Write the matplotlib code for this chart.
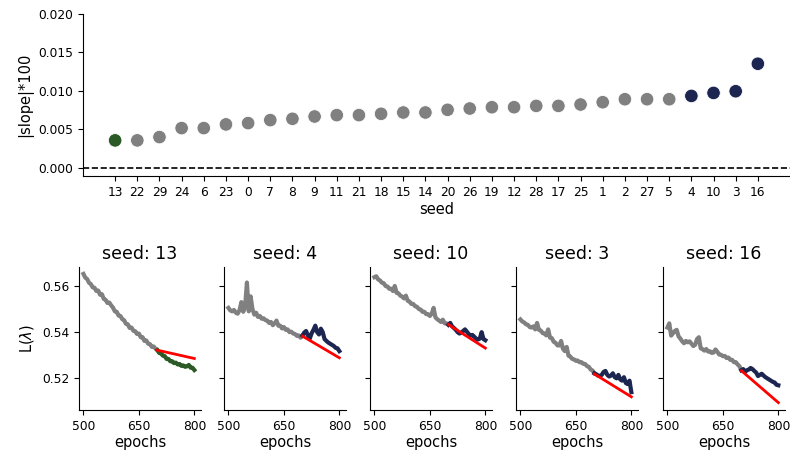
import numpy as np
import matplotlib
matplotlib.use('Agg')
import matplotlib.pyplot as plt
from matplotlib.ticker import FormatStrFormatter

# top panel: |slope|*100 per seed, sorted
seeds = ['13', '22', '29', '24', '6', '23', '0', '7', '8', '9', '11', '21', '18', '15',
         '14', '20', '26', '19', '12', '28', '17', '25', '1', '2', '27', '5', '4', '10',
         '3', '16']
slopes = [0.00354, 0.00354, 0.00397, 0.00514, 0.00514, 0.00562, 0.00579, 0.00618,
          0.00635, 0.00665, 0.00683, 0.00683, 0.00700, 0.00717, 0.00717, 0.00752,
          0.00769, 0.00786, 0.00786, 0.00803, 0.00803, 0.00821, 0.00851, 0.00890,
          0.00890, 0.00890, 0.00933, 0.00972, 0.00994, 0.01352]
highlight_low = ['13']
highlight_high = ['4', '10', '3', '16']

# bottom panels: loss curves (every 5 epochs)
epochs = list(range(500, 801, 5))
split_epoch = 700
loss = {
    '13': [0.5652, 0.5636, 0.5630, 0.5614, 0.5608, 0.5594, 0.5592, 0.5578, 0.5580, 0.5562,
           0.5564, 0.5544, 0.5540, 0.5526, 0.5528, 0.5516, 0.5506, 0.5490, 0.5488, 0.5472,
           0.5470, 0.5456, 0.5452, 0.5436, 0.5434, 0.5418, 0.5420, 0.5406, 0.5404, 0.5392,
           0.5394, 0.5378, 0.5378, 0.5362, 0.5364, 0.5350, 0.5348, 0.5336, 0.5338, 0.5328,
           0.5322, 0.5310, 0.5308, 0.5298, 0.5296, 0.5284, 0.5284, 0.5274, 0.5274, 0.5266,
           0.5268, 0.5260, 0.5262, 0.5254, 0.5256, 0.5250, 0.5252, 0.5258, 0.5246, 0.5246,
           0.5236],
    '4': [0.5505, 0.5494, 0.5490, 0.5496, 0.5484, 0.5480, 0.5495, 0.5530, 0.5488, 0.5510,
          0.5615, 0.5490, 0.5555, 0.5500, 0.5476, 0.5484, 0.5466, 0.5470, 0.5458, 0.5460,
          0.5452, 0.5450, 0.5440, 0.5444, 0.5430, 0.5438, 0.5450, 0.5428, 0.5428, 0.5416,
          0.5422, 0.5410, 0.5412, 0.5400, 0.5402, 0.5394, 0.5392, 0.5384, 0.5386, 0.5376,
          0.5385, 0.5398, 0.5405, 0.5385, 0.5372, 0.5395, 0.5410, 0.5428, 0.5400, 0.5390,
          0.5415, 0.5400, 0.5370, 0.5362, 0.5355, 0.5350, 0.5345, 0.5340, 0.5332, 0.5330,
          0.5318],
    '10': [0.5638, 0.5642, 0.5628, 0.5624, 0.5614, 0.5612, 0.5600, 0.5598, 0.5588, 0.5588,
           0.5578, 0.5600, 0.5570, 0.5568, 0.5558, 0.5554, 0.5546, 0.5558, 0.5536, 0.5532,
           0.5522, 0.5522, 0.5512, 0.5510, 0.5500, 0.5498, 0.5488, 0.5488, 0.5478, 0.5478,
           0.5470, 0.5480, 0.5505, 0.5464, 0.5456, 0.5450, 0.5444, 0.5454, 0.5438, 0.5438,
           0.5432, 0.5440, 0.5425, 0.5418, 0.5410, 0.5400, 0.5394, 0.5398, 0.5405, 0.5412,
           0.5402, 0.5392, 0.5385, 0.5388, 0.5380, 0.5372, 0.5368, 0.5372, 0.5400, 0.5370,
           0.5365],
    '3': [0.5455, 0.5446, 0.5442, 0.5434, 0.5432, 0.5422, 0.5420, 0.5425, 0.5412, 0.5440,
          0.5410, 0.5407, 0.5396, 0.5394, 0.5386, 0.5412, 0.5376, 0.5374, 0.5358, 0.5354,
          0.5343, 0.5342, 0.5362, 0.5328, 0.5318, 0.5336, 0.5298, 0.5294, 0.5284, 0.5282,
          0.5276, 0.5277, 0.5270, 0.5270, 0.5263, 0.5262, 0.5253, 0.5250, 0.5238, 0.5234,
          0.5222, 0.5218, 0.5212, 0.5210, 0.5215, 0.5228, 0.5232, 0.5215, 0.5208, 0.5212,
          0.5222, 0.5205, 0.5200, 0.5215, 0.5195, 0.5190, 0.5205, 0.5180, 0.5175, 0.5190,
          0.5140],
    '16': [0.5420, 0.5438, 0.5385, 0.5395, 0.5405, 0.5410, 0.5382, 0.5372, 0.5360, 0.5352,
           0.5362, 0.5356, 0.5360, 0.5350, 0.5340, 0.5345, 0.5370, 0.5378, 0.5330, 0.5326,
           0.5320, 0.5327, 0.5316, 0.5317, 0.5310, 0.5312, 0.5325, 0.5315, 0.5303, 0.5302,
           0.5296, 0.5297, 0.5288, 0.5290, 0.5280, 0.5280, 0.5270, 0.5270, 0.5260, 0.5252,
           0.5235, 0.5240, 0.5228, 0.5235, 0.5238, 0.5245, 0.5240, 0.5232, 0.5225, 0.5210,
           0.5215, 0.5220, 0.5212, 0.5205, 0.5200, 0.5195, 0.5190, 0.5185, 0.5182, 0.5172,
           0.5170],
}
panel_seeds = ['13', '4', '10', '3', '16']
# fitted line endpoints at epochs 700 and 800
fit_start = [0.5322, 0.5383, 0.5433, 0.5219, 0.5233]
fit_end = [0.5286, 0.5289, 0.5331, 0.5120, 0.5095]

GRAY = '#808080'
GREEN = '#2b5a27'
NAVY = '#1d2650'

fig = plt.figure(figsize=(7.9, 4.66), dpi=100)
W, H = 790, 466


def px_axes(x0, y0, x1, y1):
    return fig.add_axes([x0 / W, 1 - y1 / H, (x1 - x0) / W, (y1 - y0) / H])


# ---- top: slopes
ax = px_axes(83, 14, 790, 176)
colors = []
for s in seeds:
    if s in highlight_low:
        colors.append(GREEN)
    elif s in highlight_high:
        colors.append(NAVY)
    else:
        colors.append(GRAY)
pos = np.arange(len(seeds))
ax.scatter(pos, slopes, s=95, c=colors, edgecolors='white', linewidths=0.6, zorder=3)
ax.axhline(0, color='black', ls='--', lw=1.2)
ax.set_xticks(pos)
ax.set_xticklabels(seeds)
ax.set_xlim(-1.45, 30.45)
ax.set_ylim(-0.0011, 0.02)
ax.set_yticks([0, 0.005, 0.01, 0.015, 0.02])
ax.yaxis.set_major_formatter(FormatStrFormatter('%.3f'))
ax.set_xlabel('seed', fontsize=10.5, labelpad=2)
ax.set_ylabel('|slope|*100', fontsize=10.5)
ax.tick_params(labelsize=8.8)
for sp in ['top', 'right']:
    ax.spines[sp].set_visible(False)

# ---- bottom: loss curves
ep = np.array(epochs)
lefts = [79, 224, 370, 516, 663]
for i, (sd, xl) in enumerate(zip(panel_seeds, lefts)):
    a = px_axes(xl, 267, xl + 122, 410)
    y = np.array(loss[sd])
    c = GREEN if sd in highlight_low else NAVY
    pre = ep <= split_epoch
    post = ep >= split_epoch
    a.plot(ep[pre], y[pre], color=GRAY, lw=3)
    a.plot(ep[post], y[post], color=c, lw=3)
    a.plot([split_epoch, 800], [fit_start[i], fit_end[i]], color='red', lw=2)
    a.set_xlim(488, 818)
    a.set_ylim(0.5063, 0.5682)
    a.set_xticks([500, 650, 800])
    a.set_yticks([0.52, 0.54, 0.56])
    a.set_title('seed: ' + sd, fontsize=12.5)
    a.set_xlabel('epochs', fontsize=10.5, labelpad=2)
    a.tick_params(labelsize=8.8)
    if i == 0:
        a.set_ylabel(r'L($\lambda$)', fontsize=10.5)
    else:
        a.set_yticklabels([])
    for sp in ['top', 'right']:
        a.spines[sp].set_visible(False)

fig.savefig('out.png', dpi=100)
